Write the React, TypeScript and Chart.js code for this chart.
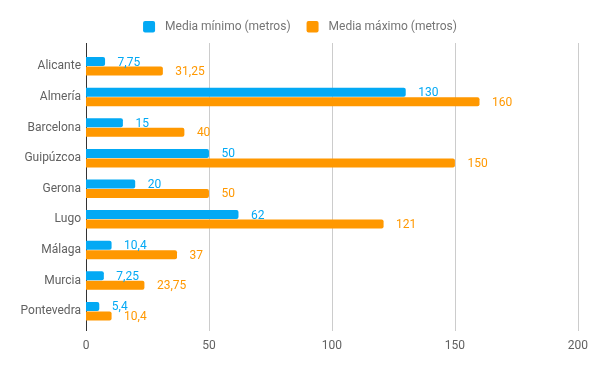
import React, { useEffect, useRef } from "react";
import { Chart, registerables } from "chart.js";

Chart.register(...registerables);

const categories = ["Alicante", "Almería", "Barcelona", "Guipúzcoa", "Gerona", "Lugo", "Málaga", "Murcia", "Pontevedra"];
const mediaMinimo = [7.75, 130, 15, 50, 20, 62, 10.4, 7.25, 5.4];
const mediaMaximo = [31.25, 160, 40, 150, 50, 121, 37, 23.75, 10.4];
const xTicks = [0, 50, 100, 150, 200];

const BLUE = "#03A9F4";
const ORANGE = "#FF9800";
const FONT = "Roboto";

const fmt = (v: number) => String(v).replace(".", ",");

const gridPlugin = {
  id: "customGrid",
  beforeDatasetsDraw(chart: any) {
    const { ctx, chartArea, scales } = chart;
    const x = scales.x;
    ctx.save();
    ctx.lineWidth = 1;
    xTicks.forEach((t) => {
      const px = Math.round(x.getPixelForValue(t)) + 0.5;
      ctx.strokeStyle = t === 0 ? "#333333" : "#cccccc";
      ctx.beginPath();
      ctx.moveTo(px, chartArea.top - 8);
      ctx.lineTo(px, chartArea.bottom + 4.5);
      ctx.stroke();
    });
    ctx.restore();
  },
};

const labelPlugin = {
  id: "barLabels",
  afterDatasetsDraw(chart: any) {
    const { ctx } = chart;
    ctx.save();
    ctx.font = `12px ${FONT}`;
    ctx.textBaseline = "middle";
    ctx.textAlign = "left";
    chart.data.datasets.forEach((ds: any, di: number) => {
      const meta = chart.getDatasetMeta(di);
      meta.data.forEach((bar: any, i: number) => {
        ctx.fillStyle = ds.backgroundColor;
        ctx.fillText(fmt(ds.data[i]), bar.x + 12.5, bar.y + 1);
      });
    });
    ctx.restore();
  },
};

const legendPlugin = {
  id: "customLegend",
  afterDraw(chart: any) {
    const { ctx, width } = chart;
    ctx.save();
    ctx.font = `12px ${FONT}`;
    const box = 12;
    const gapText = 10;
    const gapItem = 16;
    const items = chart.data.datasets.map((ds: any) => ({
      text: ds.label,
      color: ds.backgroundColor,
      w: ctx.measureText(ds.label).width,
    }));
    const total = items.reduce((s: number, it: any) => s + box + gapText + it.w, 0) + gapItem * (items.length - 1);
    let x = (width - total) / 2;
    const cy = 26.5;
    items.forEach((it: any) => {
      ctx.fillStyle = it.color;
      ctx.beginPath();
      (ctx as any).roundRect(x, cy - 5.5, box, 11.5, 2);
      ctx.fill();
      ctx.fillStyle = "#757575";
      ctx.textBaseline = "middle";
      ctx.textAlign = "left";
      ctx.fillText(it.text, x + box + gapText, cy);
      x += box + gapText + it.w + gapItem;
    });
    ctx.restore();
  },
};

export default function App() {
  const ref = useRef<HTMLCanvasElement>(null);
  useEffect(() => {
    if (!ref.current) return;
    const chart = new Chart(ref.current, {
      type: "bar",
      data: {
        labels: categories,
        datasets: [
          {
            label: "Media mínimo (metros)",
            data: mediaMinimo,
            backgroundColor: BLUE,
            borderRadius: 2,
            borderSkipped: "start",
            categoryPercentage: 0.62,
            barPercentage: 0.95,
          },
          {
            label: "Media máximo (metros)",
            data: mediaMaximo,
            backgroundColor: ORANGE,
            borderRadius: 2,
            borderSkipped: "start",
            categoryPercentage: 0.62,
            barPercentage: 0.95,
          },
        ],
      },
      options: {
        indexAxis: "y",
        animation: false,
        responsive: true,
        maintainAspectRatio: false,
        layout: { padding: { top: 51, right: 14, bottom: 0, left: 0 } },
        plugins: {
          legend: { display: false },
          tooltip: { enabled: false },
        },
        scales: {
          x: {
            min: 0,
            max: 200,
            afterBuildTicks: (axis: any) => {
              axis.ticks = xTicks.map((v) => ({ value: v }));
            },
            afterFit: (axis: any) => {
              axis.height = 44.5;
            },
            grid: { display: false, drawTicks: false },
            border: { display: false },
            ticks: {
              color: "#616161",
              font: { family: FONT, size: 12 },
              padding: 12,
              maxRotation: 0,
            },
          },
          y: {
            afterFit: (axis: any) => {
              axis.width = 86;
            },
            grid: { display: false, drawTicks: false },
            border: { display: false },
            ticks: {
              color: "#616161",
              font: { family: FONT, size: 12 },
              padding: 5,
            },
          },
        },
      },
      plugins: [gridPlugin, labelPlugin, legendPlugin],
    } as any);
    return () => chart.destroy();
  }, []);
  return (
    <div style={{ position: "fixed", left: 0, top: 0, width: 600, height: 371, background: "#fff" }}>
      <canvas ref={ref} />
    </div>
  );
}
